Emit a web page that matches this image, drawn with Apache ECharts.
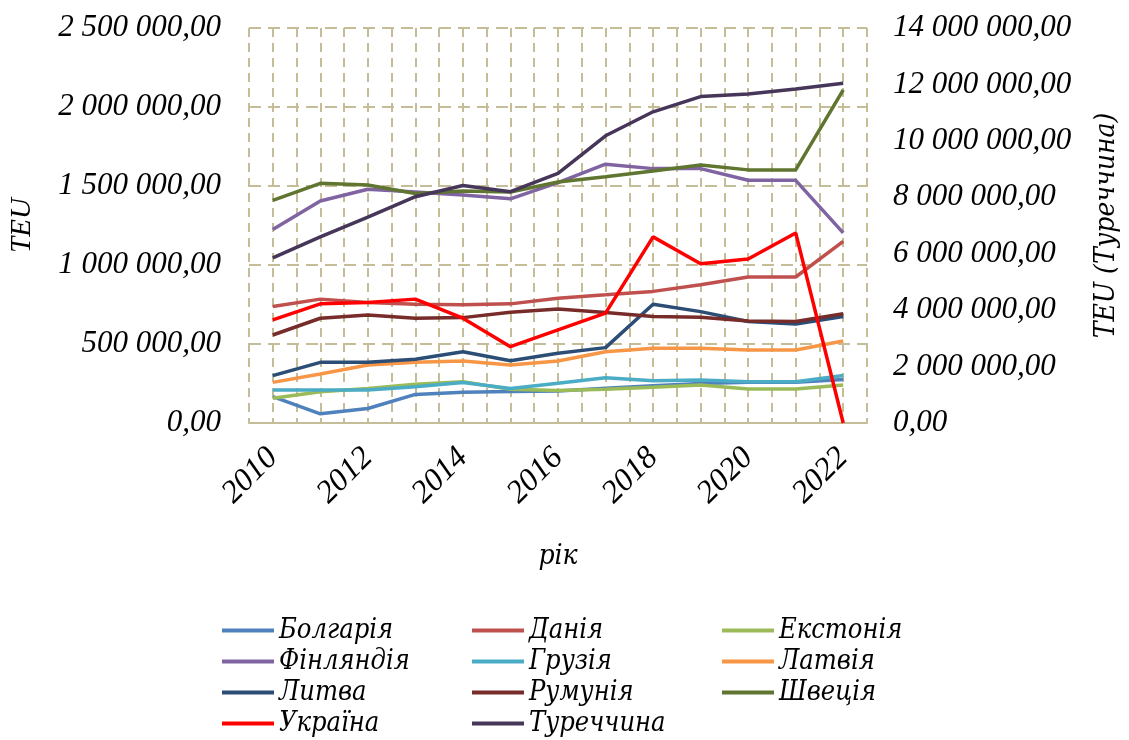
<!DOCTYPE html>
<html>
<head>
<meta charset="utf-8">
<script src="https://cdn.jsdelivr.net/npm/echarts@6/dist/echarts.min.js"></script>
<style>
html,body{margin:0;padding:0;background:#fff;}
#container{width:1129px;height:740px;}
</style>
</head>
<body>
<div id="container"></div>
<script>
var years = ['2010','2011','2012','2013','2014','2015','2016','2017','2018','2019','2020','2021','2022'];

// TEU, ліва вісь
var bulgaria = [167000, 58000, 92000, 181000, 195000, 200000, 202000, 220000, 236000, 250000, 258000, 258000, 276000];
var denmark = [737000, 784000, 763000, 752000, 748000, 754000, 790000, 811000, 833000, 875000, 924000, 924000, 1150000];
var estonia = [156000, 198000, 219000, 245000, 261000, 213000, 205000, 213000, 226000, 240000, 215000, 215000, 240000];
var finland = [1225000, 1405000, 1479000, 1462000, 1443000, 1419000, 1521000, 1638000, 1610000, 1610000, 1536000, 1536000, 1203000];
var georgia = [209000, 209000, 209000, 230000, 257000, 219000, 252000, 287000, 268000, 272000, 261000, 261000, 300000];
var latvia = [257000, 310000, 367000, 384000, 392000, 367000, 392000, 451000, 473000, 473000, 462000, 462000, 519000];
var lithuania = [300000, 384000, 384000, 403000, 451000, 394000, 441000, 477000, 752000, 705000, 642000, 627000, 674000];
var romania = [557000, 663000, 684000, 663000, 667000, 701000, 722000, 699000, 674000, 669000, 646000, 642000, 691000];
var sweden = [1409000, 1517000, 1506000, 1453000, 1468000, 1462000, 1525000, 1559000, 1595000, 1633000, 1602000, 1602000, 2108000];
var ukraine = [653000, 754000, 763000, 784000, 663000, 483000, 589000, 695000, 1178000, 1008000, 1038000, 1203000, 0];
// права вісь
var turkey = [5850000, 6600000, 7300000, 8020000, 8420000, 8200000, 8850000, 10180000, 11030000, 11570000, 11660000, 11840000, 12040000];

var dom = document.getElementById('container');
var myChart = echarts.init(dom);

var fnt = "Liberation Serif";
// кирилиця: Liberation Serif тут її не має
var fntCyr = "'DejaVu Serif Condensed', 'DejaVu Serif', serif";
var gridColor = '#C4BD97';

function fmt(v) {
    return String(v).replace(/\B(?=(\d{3})+(?!\d))/g, ' ') + ',00';
}

function line(name, data, color, axis) {
    return {
        name: name,
        type: 'line',
        data: data,
        yAxisIndex: axis || 0,
        xAxisIndex: 0,
        symbol: 'none',
        lineStyle: {width: 3.5, color: color},
        itemStyle: {color: color}
    };
}

function legendCol(left, names) {
    return {
        orient: 'vertical',
        left: left,
        top: 615,
        height: 130,
        padding: 0,
        itemGap: 0,
        itemWidth: 52,
        itemHeight: 4,
        icon: 'rect',
        data: names,
        textStyle: {fontFamily: fntCyr, fontStyle: 'italic', fontSize: 27, lineHeight: 31, color: '#000'}
    };
}

var option = {
    backgroundColor: '#fff',
    animation: false,
    grid: {left: 245, right: 257, top: 28, bottom: 317},
    legend: [
        legendCol(222, ['Болгарія', 'Фінляндія', 'Литва', 'Україна']),
        legendCol(472, ['Данія', 'Грузія', 'Румунія', 'Туреччина']),
        legendCol(722, ['Екстонія', 'Латвія', 'Швеція'])
    ],
    xAxis: [{
        type: 'category',
        data: years,
        boundaryGap: true,
        name: 'рік',
        nameLocation: 'middle',
        nameGap: 120,
        nameTextStyle: {fontFamily: fntCyr, fontStyle: 'italic', fontSize: 28, color: '#000'},
        axisLine: {lineStyle: {color: gridColor, width: 2}},
        axisTick: {show: false},
        axisLabel: {interval: 1, rotate: 45, margin: 30, fontFamily: fnt, fontStyle: 'italic', fontSize: 32, color: '#000'},
        splitLine: {show: false}
    }, {
        type: 'value',
        min: 0,
        max: 26,
        interval: 1,
        show: true,
        axisLine: {show: false},
        axisTick: {show: false},
        axisLabel: {show: false},
        splitLine: {show: true, lineStyle: {color: gridColor, type: [9, 6], width: 2}}
    }],
    yAxis: [{
        type: 'value',
        min: 0,
        max: 2500000,
        interval: 500000,
        name: 'TEU',
        nameLocation: 'middle',
        nameGap: 212,
        nameRotate: 90,
        nameTextStyle: {fontFamily: fnt, fontStyle: 'italic', fontSize: 29, color: '#000'},
        axisLine: {show: false},
        axisTick: {show: false},
        axisLabel: {margin: 28, fontFamily: fnt, fontStyle: 'italic', fontSize: 31, color: '#000', formatter: fmt},
        splitLine: {show: true, lineStyle: {color: gridColor, type: [12, 7], width: 2}}
    }, {
        type: 'value',
        min: 0,
        max: 14000000,
        interval: 2000000,
        position: 'right',
        name: 'TEU (Туреччина)',
        nameLocation: 'middle',
        nameGap: 226,
        nameRotate: 90,
        nameTextStyle: {fontFamily: fntCyr, fontStyle: 'italic', fontSize: 28, color: '#000'},
        axisLine: {show: false},
        axisTick: {show: false},
        axisLabel: {margin: 26, fontFamily: fnt, fontStyle: 'italic', fontSize: 31, color: '#000', formatter: fmt},
        splitLine: {show: false}
    }],
    series: [
        line('Болгарія', bulgaria, '#4F81BD'),
        line('Данія', denmark, '#C0504D'),
        line('Екстонія', estonia, '#9BBB59'),
        line('Фінляндія', finland, '#8064A2'),
        line('Грузія', georgia, '#4BACC6'),
        line('Латвія', latvia, '#F79646'),
        line('Литва', lithuania, '#2C4D75'),
        line('Румунія', romania, '#772C2A'),
        line('Швеція', sweden, '#5F7530'),
        line('Україна', ukraine, '#FF0000'),
        line('Туреччина', turkey, '#463659', 1)
    ]
};

if (option && typeof option === 'object') {
    myChart.setOption(option, true);
}
</script>
</body>
</html>
